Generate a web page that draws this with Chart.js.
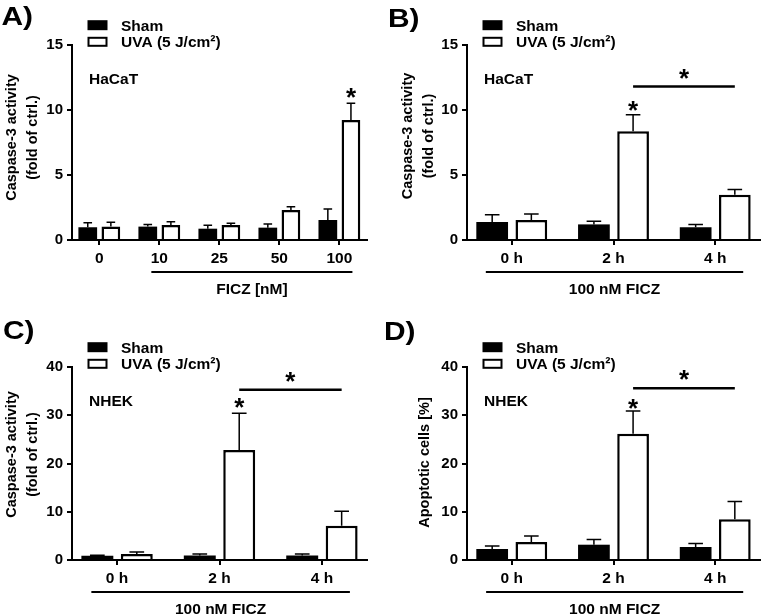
<!DOCTYPE html>
<html><head><meta charset="utf-8">
<script src="https://cdn.jsdelivr.net/npm/chart.js@4/dist/chart.umd.min.js"></script>
<style>
html,body{margin:0;padding:0;background:#fff;}
body{width:761px;height:616px;position:relative;overflow:hidden;}
canvas{position:absolute;}
</style></head><body>
<canvas id="cA" width="380" height="308" style="left:0;top:0"></canvas>
<canvas id="cB" width="381" height="308" style="left:380px;top:0"></canvas>
<canvas id="cC" width="380" height="308" style="left:0;top:308px"></canvas>
<canvas id="cD" width="381" height="308" style="left:380px;top:308px"></canvas>
<script>
// ---- data ----
const seriesNames = ['Sham', 'UVA (5 J/cm²)'];
const doseLabels = ['0', '10', '25', '50', '100'];
const timeLabels = ['0 h', '2 h', '4 h'];

// Panel A: HaCaT, FICZ dose
const shamA = [0.98, 1.03, 0.87, 0.95, 1.54];
const shamAErr = [0.35, 0.17, 0.26, 0.28, 0.84];
const uvaA = [1.03, 1.15, 1.15, 2.31, 9.23];
const uvaAErr = [0.33, 0.26, 0.13, 0.25, 1.28];

// Panel B: HaCaT, time
const shamB = [1.39, 1.20, 0.99];
const shamBErr = [0.56, 0.24, 0.20];
const uvaB = [1.54, 8.37, 3.49];
const uvaBErr = [0.46, 1.26, 0.39];

// Panel C: NHEK caspase-3
const shamC = [0.90, 0.95, 0.95];
const shamCErr = [0.08, 0.29, 0.29];
const uvaC = [1.24, 22.8, 7.1];
const uvaCErr = [0.41, 7.6, 3.0];

// Panel D: NHEK apoptotic cells
const shamD = [2.27, 3.17, 2.68];
const shamDErr = [0.62, 1.10, 0.76];
const uvaD = [3.72, 26.15, 8.47];
const uvaDErr = [1.23, 4.75, 3.63];

const FONT = "'Liberation Sans', Arial, Helvetica, sans-serif";
const casp = ['Caspase-3 activity', '(fold of ctrl.)'];

const panels = [
  {id:'cA', letter:'A)', cats:doseLabels, sham:shamA, shamErr:shamAErr, uva:uvaA, uvaErr:uvaAErr,
   yMax:15, yStep:5, yTitle:casp, cell:'HaCaT', group:'FICZ [nM]',
   xMin:-0.455, xMax:4.46, groupFrom:0.867, groupTo:4.217,
   barStars:[4], starGap:10.8, bracket:null,
   pad:{left:0, top:45, right:13, bottom:38}, yWidth:72,
   titleX:12, titleY:137.5, letterX:1.5, letterY:25.3},
  {id:'cB', letter:'B)', cats:timeLabels, sham:shamB, shamErr:shamBErr, uva:uvaB, uvaErr:uvaBErr,
   yMax:15, yStep:5, yTitle:casp, cell:'HaCaT', group:'100 nM FICZ',
   xMin:-0.44, xMax:2.44, groupFrom:-0.255, groupTo:2.275,
   barStars:[1], starGap:9, bracket:{from:1, to:2, y:11.8},
   pad:{left:0, top:45, right:1, bottom:38}, yWidth:87,
   titleX:28, titleY:136, letterX:8, letterY:27},
  {id:'cC', letter:'C)', cats:timeLabels, sham:shamC, shamErr:shamCErr, uva:uvaC, uvaErr:uvaCErr,
   yMax:40, yStep:10, yTitle:casp, cell:'NHEK', group:'100 nM FICZ',
   xMin:-0.44, xMax:2.44, groupFrom:-0.251, groupTo:2.273,
   barStars:[1], starGap:10, bracket:{from:1, to:2, y:35.3},
   pad:{left:0, top:59, right:13, bottom:26}, yWidth:72,
   titleX:12, titleY:146.5, letterX:3, letterY:31},
  {id:'cD', letter:'D)', cats:timeLabels, sham:shamD, shamErr:shamDErr, uva:uvaD, uvaErr:uvaDErr,
   yMax:40, yStep:10, yTitle:['Apoptotic cells [%]'], cell:'NHEK', group:'100 nM FICZ',
   xMin:-0.44, xMax:2.44, groupFrom:-0.252, groupTo:2.275,
   barStars:[1], starGap:6.5, bracket:{from:1, to:2, y:35.6},
   pad:{left:0, top:59, right:1, bottom:26}, yWidth:87,
   titleX:45, titleY:154.5, letterX:4, letterY:32.3}
];

function drawStar(ctx, x, cy) {
  ctx.save();
  ctx.font = `bold 26px ${FONT}`;
  ctx.textAlign = 'center';
  ctx.textBaseline = 'alphabetic';
  const m = ctx.measureText('*');
  const base = cy + (m.actualBoundingBoxAscent - m.actualBoundingBoxDescent) / 2;
  ctx.fillStyle = '#000';
  ctx.fillText('*', x, base);
  ctx.restore();
}

function annotPlugin(p) {
  return {
    id: 'annot' + p.id,
    afterDatasetsDraw(chart) {
      const ctx = chart.ctx, ys = chart.scales.y;
      const sets = [[p.sham, p.shamErr], [p.uva, p.uvaErr]];
      ctx.save();
      ctx.strokeStyle = '#000';
      ctx.lineWidth = 1.5;
      sets.forEach((s, di) => {
        chart.getDatasetMeta(di).data.forEach((el, i) => {
          const top = ys.getPixelForValue(s[0][i] + s[1][i]);
          const half = el.width * 0.23;
          ctx.beginPath();
          ctx.moveTo(el.x, el.y);
          ctx.lineTo(el.x, top);
          ctx.moveTo(el.x - half, top);
          ctx.lineTo(el.x + half, top);
          ctx.stroke();
        });
      });
      ctx.restore();
    },
    afterDraw(chart) {
      const ctx = chart.ctx, ca = chart.chartArea, xs = chart.scales.x, ys = chart.scales.y;
      ctx.save();
      ctx.fillStyle = '#000';
      ctx.strokeStyle = '#000';
      // panel letter
      ctx.save();
      ctx.translate(p.letterX, p.letterY);
      ctx.scale(1.15, 1);
      ctx.font = `bold 26px ${FONT}`;
      ctx.textAlign = 'left';
      ctx.textBaseline = 'alphabetic';
      ctx.fillText(p.letter, 0, 0);
      ctx.restore();
      // legend
      const L = ca.left + 15.5;
      const rows = [ca.top - 19.8, ca.top - 3.2];
      ctx.font = `bold 15.5px ${FONT}`;
      ctx.textAlign = 'left';
      ctx.textBaseline = 'alphabetic';
      rows.forEach((cy, i) => {
        if (i === 0) {
          ctx.fillStyle = '#000';
          ctx.fillRect(L, cy - 5, 20, 10);
        } else {
          ctx.fillStyle = '#fff';
          ctx.fillRect(L, cy - 5, 20, 10);
          ctx.lineWidth = 2;
          ctx.strokeRect(L + 1, cy - 4, 18, 8);
        }
        ctx.fillStyle = '#000';
        ctx.fillText(chart.data.datasets[i].label, L + 33.5, cy + 5.6);
      });
      // cell label
      ctx.fillText(p.cell, ca.left + 17, ca.top + 33.5 + 5.5);
      // y title
      ctx.save();
      ctx.translate(p.titleX, p.titleY);
      ctx.rotate(-Math.PI / 2);
      ctx.textAlign = 'center';
      ctx.textBaseline = 'middle';
      ctx.font = `bold 14.5px ${FONT}`;
      p.yTitle.forEach((t, i) => ctx.fillText(t, 0, i * 21));
      ctx.restore();
      // group line and label
      const gx1 = xs.getPixelForValue(p.groupFrom), gx2 = xs.getPixelForValue(p.groupTo);
      const gy = ca.bottom + 32;
      ctx.lineWidth = 1.8;
      ctx.beginPath();
      ctx.moveTo(gx1, gy);
      ctx.lineTo(gx2, gy);
      ctx.stroke();
      ctx.font = `bold 15.5px ${FONT}`;
      ctx.textAlign = 'center';
      ctx.fillText(p.group, (gx1 + gx2) / 2, ca.bottom + 53.5);
      // stars over bars
      const uvaMeta = chart.getDatasetMeta(1).data;
      p.barStars.forEach(i => {
        const top = ys.getPixelForValue(p.uva[i] + p.uvaErr[i]);
        drawStar(ctx, uvaMeta[i].x, top - p.starGap);
      });
      // bracket
      if (p.bracket) {
        const bx1 = uvaMeta[p.bracket.from].x, bx2 = uvaMeta[p.bracket.to].x;
        const by = ys.getPixelForValue(p.bracket.y);
        ctx.lineWidth = 2.5;
        ctx.beginPath();
        ctx.moveTo(bx1, by);
        ctx.lineTo(bx2, by);
        ctx.stroke();
        drawStar(ctx, (bx1 + bx2) / 2, by - 13);
      }
      ctx.restore();
    }
  };
}

function makeChart(p) {
  const toPts = arr => arr.map((v, i) => ({x: i, y: v}));
  const tickFont = {family: FONT, size: 15.5, weight: 'bold'};
  return new Chart(document.getElementById(p.id), {
    type: 'bar',
    data: {
      datasets: [
        {label: seriesNames[0], data: toPts(p.sham), backgroundColor: '#000', borderColor: '#000', borderWidth: 0},
        {label: seriesNames[1], data: toPts(p.uva), backgroundColor: '#fff', borderColor: '#000', borderWidth: 2.5}
      ]
    },
    options: {
      responsive: false,
      animation: false,
      devicePixelRatio: 1,
      layout: {padding: p.pad},
      datasets: {bar: {categoryPercentage: 0.77, barPercentage: 0.81}},
      plugins: {legend: {display: false}, tooltip: {enabled: false}},
      scales: {
        x: {
          type: 'linear', min: p.xMin, max: p.xMax, bounds: 'data', offset: false, z: 1,
          grid: {display: true, drawOnChartArea: false, drawTicks: true, tickLength: 5, color: '#000', lineWidth: 2, offset: false},
          border: {display: true, color: '#000', width: 2},
          afterBuildTicks: s => { s.ticks = p.cats.map((c, i) => ({value: i})); },
          afterFit: s => { s.height = 30; },
          ticks: {
            includeBounds: false, autoSkip: false, maxRotation: 0, padding: 4,
            color: '#000', font: tickFont,
            callback: (v, i) => p.cats[i]
          }
        },
        y: {
          min: 0, max: p.yMax, z: 1,
          grid: {display: true, drawOnChartArea: false, drawTicks: true, tickLength: 5, color: '#000', lineWidth: 2},
          border: {display: true, color: '#000', width: 2},
          afterFit: s => { s.width = p.yWidth; },
          ticks: {stepSize: p.yStep, padding: 4, color: '#000', font: {family: FONT, size: 15, weight: 'bold'}}
        }
      }
    },
    plugins: [annotPlugin(p)]
  });
}

panels.forEach(makeChart);
</script>
</body></html>
